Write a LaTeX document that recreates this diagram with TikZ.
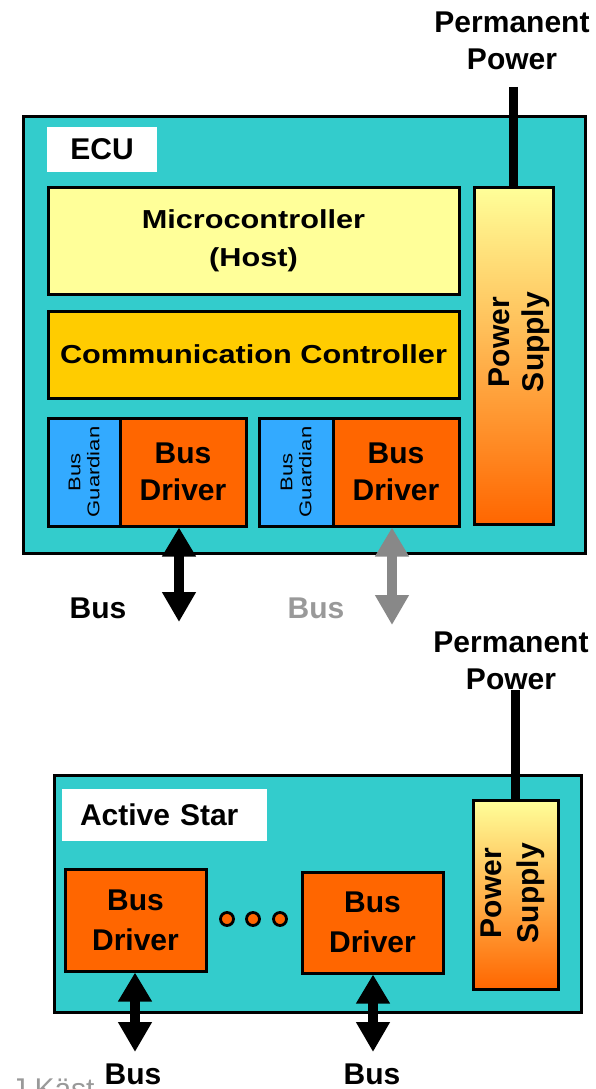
\documentclass[tikz,border=0pt]{standalone}
\usepackage{fontspec}
\setmainfont{Liberation Sans}
\usetikzlibrary{arrows.meta}
\definecolor{cteal}{HTML}{33CCCC}
\definecolor{cyellow}{HTML}{FFFF99}
\definecolor{cgold}{HTML}{FFCC00}
\definecolor{corange}{HTML}{FF6600}
\definecolor{cblue}{HTML}{33AAFF}
\definecolor{cgreyarrow}{HTML}{888888}
\definecolor{cgreytext}{HTML}{999999}
\begin{document}
\begin{tikzpicture}[x=1pt,y=-1pt,
  frame/.style={draw=black,line width=3pt,inner sep=0pt},
  big/.style={font=\bfseries\fontsize{30}{37}\selectfont,align=center},
  wide/.style={font=\bfseries\fontsize{26}{38}\selectfont,align=center},
  guard/.style={frame,fill=cblue,rotate=90,minimum width=108pt,align=center,
    font=\fontsize{17}{19}\selectfont},
  driver/.style={frame,fill=corange,big},
  psbox/.style={frame,top color=cyellow,bottom color=corange},
  pstext/.style={rotate=90,font=\bfseries\fontsize{30}{34}\selectfont,align=center,inner sep=0pt},
  pline/.style={line width=9pt},
  busarrow/.style={line width=10pt,arrows={Triangle[width=32pt,length=29pt]-Triangle[width=32pt,length=30pt]}},
  dotst/.style={circle,draw=black,line width=2.8pt,fill=corange,minimum size=13pt,inner sep=0pt},
  lab/.style={fill=white,inner sep=0pt,big}
]
\useasboundingbox (0,0) rectangle (595,1089);

% ---------------- ECU ----------------
\node[big] (pp1) at (512,41) {Permanent\\Power};
\node[frame,fill=cteal,minimum width=562pt,minimum height=436pt] (ecu) at (304,335) {};
\node[lab,minimum width=110pt,minimum height=45pt] (eculab) at (102,149.5) {ECU};
\node[frame,fill=cyellow,minimum width=411pt,minimum height=107pt,wide] (micro) at (253.5,240.5)
  {\scalebox{1.18}[1]{Microcontroller}\\\scalebox{1.18}[1]{(Host)}};
\node[frame,fill=cgold,minimum width=411pt,minimum height=87pt,wide] (comm) at (253.5,354.5)
  {\scalebox{1.18}[1]{Communication Controller}};
\node[psbox,minimum width=79pt,minimum height=337pt] (ps1) at (513.5,355.5) {};
\node[pstext] (ps1t) at (519,342) {Power\\Supply};
\coordinate (pwr1) at (513.5,87);
\draw[pline] (pwr1) -- (ps1.north);

\node[guard,minimum height=72pt] (g1) at (84,472) {\scalebox{1.3}[1]{Bus}\\\scalebox{1.3}[1]{Guardian}};
\node[driver,minimum width=126pt,minimum height=108pt] (d1) at (183,472) {Bus\\Driver};
\node[guard,minimum height=74pt] (g2) at (296,472) {\scalebox{1.3}[1]{Bus}\\\scalebox{1.3}[1]{Guardian}};
\node[driver,minimum width=126pt,minimum height=108pt] (d2) at (396,472) {Bus\\Driver};

\coordinate (bus1) at (179,622);
\coordinate (bus2) at (392,625);
\draw[busarrow] ([xshift=-4pt]d1.south) -- (bus1);
\draw[busarrow,cgreyarrow] ([xshift=-4pt]d2.south) -- (bus2);
\node[big] (b1) at (98,608) {Bus};
\node[big,text=cgreytext] (b2) at (316,608) {Bus};

% ---------------- Active Star ----------------
\node[big] (pp2) at (511,661) {Permanent\\Power};
\node[frame,fill=cteal,minimum width=527pt,minimum height=237pt] (star) at (317.5,893.5) {};
\node[lab,minimum width=205pt,minimum height=52pt,text width=169pt,align=left] (starlab) at (164.5,815) {Active Star};
\node[psbox,minimum width=85pt,minimum height=189pt] (ps2) at (515.5,894.5) {};
\node[pstext,font=\bfseries\fontsize{30}{37}\selectfont] (ps2t) at (513,893) {Power\\Supply};
\coordinate (pwr2) at (515.5,690);
\draw[pline] (pwr2) -- (ps2.north);

\node[driver,minimum width=141pt,minimum height=102pt,font=\bfseries\fontsize{30}{40}\selectfont] (bd1) at (135.5,920) {Bus\\Driver};
\node[driver,minimum width=141pt,minimum height=101pt,font=\bfseries\fontsize{30}{40}\selectfont] (bd2) at (372.5,922.5) {Bus\\Driver};
\node[dotst] (dot1) at (227,919) {};
\node[dotst] (dot2) at (253,919) {};
\node[dotst] (dot3) at (280,919) {};

\coordinate (bus3) at (135,1052);
\coordinate (bus4) at (373,1052);
\draw[busarrow] ([xshift=-0.5pt]bd1.south) -- (bus3);
\draw[busarrow] ([xshift=0.5pt]bd2.south) -- (bus4);
\node[big] (b3) at (133,1074) {Bus};
\node[big] (b4) at (372,1074) {Bus};

\node[anchor=base west,inner sep=0pt,text=cgreytext,font=\fontsize{30}{36}\selectfont] (credit) at (11,1099.5) {J Käst};
\end{tikzpicture}
\end{document}
